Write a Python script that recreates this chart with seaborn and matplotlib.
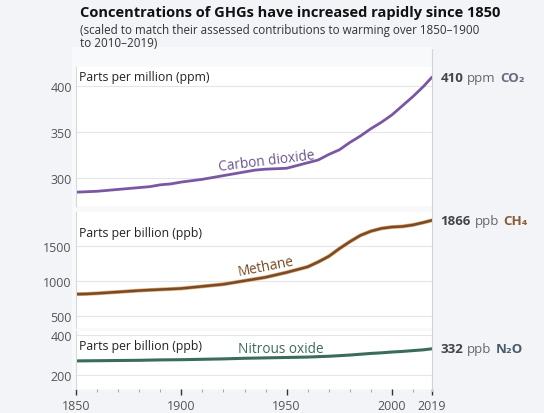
import matplotlib
matplotlib.use("Agg")
import matplotlib.pyplot as plt
import matplotlib.patheffects as pe
import pandas as pd
import seaborn as sns

# approximate values (every 5 years, last point 2019)
years = [1850, 1855, 1860, 1865, 1870, 1875, 1880, 1885, 1890, 1895, 1900,
         1905, 1910, 1915, 1920, 1925, 1930, 1935, 1940, 1945, 1950, 1955,
         1960, 1965, 1970, 1975, 1980, 1985, 1990, 1995, 2000, 2005, 2010,
         2015, 2019]
co2_ppm = [285, 285.5, 286, 287, 288, 289, 290, 291, 293, 294, 296,
           297.5, 299, 301, 303, 305, 307, 309, 310, 310.5, 311, 314,
           317, 320, 326, 331, 339, 346, 354, 361, 369, 379, 389,
           400, 410]
ch4_ppb = [808, 812, 820, 830, 840, 850, 860, 868, 875, 882, 890,
           905, 920, 935, 950, 975, 1000, 1025, 1050, 1085, 1120, 1160,
           1200, 1270, 1350, 1460, 1560, 1650, 1710, 1750, 1770, 1778, 1800,
           1835, 1866]
n2o_ppb = [272, 272.5, 273, 273.5, 274, 274.5, 275, 276, 277, 277.5, 278,
           279, 280, 281, 282, 283.5, 285, 286, 287, 288, 289, 290,
           291, 293, 295, 298, 301, 305, 309, 312, 316, 319, 323,
           327, 332]

x_ticks = [1850, 1900, 1950, 2000, 2019]
co2_ticks = [300, 350, 400]
ch4_ticks = [500, 1000, 1500]
n2o_ticks = [200, 400]

sns.set_style("white")
plt.rcParams['font.family'] = ['Open Sans', 'DejaVu Sans']

bg = '#f2f4f7'
grey = '#555555'
c_co2, c_ch4, c_n2o = '#7b57a3', '#7a4a25', '#3b6b5b'

df = pd.DataFrame({'year': years, 'co2': co2_ppm, 'ch4': ch4_ppb, 'n2o': n2o_ppb})

fig = plt.figure(figsize=(5.44, 4.14), dpi=100, facecolor=bg)

# light panel behind the plot area and title
fig.patches.append(plt.Rectangle((72 / 544, 1 - 390 / 414), 360 / 544, 342 / 414,
                                 transform=fig.transFigure, color='#f8f9fb', zorder=-5))

L, W = 76 / 544, 356 / 544
ax1 = fig.add_axes([L, 1 - 207 / 414, W, 139 / 414])
ax2 = fig.add_axes([L, 1 - 329 / 414, W, 116 / 414])
ax3 = fig.add_axes([L, 1 - 390 / 414, W, 58 / 414])

sns.lineplot(data=df, x='year', y='co2', ax=ax1, color=c_co2, linewidth=2)
sns.lineplot(data=df, x='year', y='ch4', ax=ax2, color=c_ch4, linewidth=1.8,
             path_effects=[pe.Stroke(linewidth=2.8, foreground='#d9aa78'), pe.Normal()])
sns.lineplot(data=df, x='year', y='n2o', ax=ax3, color=c_n2o, linewidth=2.2)

# (axes, y-limits, ticks, unit label, unit label drop in points)
setup = [(ax1, (270, 421), co2_ticks, 'Parts per million (ppm)', 2),
         (ax2, (324, 1985), ch4_ticks, 'Parts per billion (ppb)', 10),
         (ax3, (133, 420), n2o_ticks, 'Parts per billion (ppb)', 6)]
for ax, ylim, ticks, unit, drop in setup:
    ax.set_facecolor('white')
    ax.set_xlim(1850, 2019)
    ax.set_ylim(*ylim)
    ax.set_yticks(ticks)
    ax.set_xlabel('')
    ax.set_ylabel('')
    ax.grid(axis='y', color='#e4e6ea', linewidth=0.8)
    ax.set_axisbelow(True)
    for s in ['top', 'right', 'bottom']:
        ax.spines[s].set_visible(False)
    ax.spines['left'].set_color('#d5d8dd')
    ax.spines['left'].set_linewidth(0.8)
    ax.tick_params(axis='y', length=0, labelsize=9, labelcolor=grey, pad=3)
    ax.annotate(unit, xy=(0, 1), xycoords='axes fraction', xytext=(2, -drop),
                textcoords='offset points', ha='left', va='top',
                fontsize=8.8, color='#222222',
                bbox=dict(facecolor='white', edgecolor='none', pad=1))

for ax in (ax1, ax2):
    ax.set_xticks([])

ax3.set_xticks(x_ticks)
ax3.set_xticks(range(1860, 2019, 10), minor=True)
ax3.tick_params(axis='x', which='major', length=4, width=1, color='#333333',
                labelsize=9, labelcolor=grey, pad=3, direction='out')
ax3.tick_params(axis='x', which='minor', length=2, width=0.6, color='#999999',
                direction='out')
ax3.xaxis.set_ticks_position('bottom')
ax3.tick_params(axis='x', bottom=True)

# line labels
ax1.text(1941, 311, 'Carbon dioxide', color='#6a5690', fontsize=9.8,
         rotation=7, ha='center', va='bottom', rotation_mode='anchor')
ax2.text(1941, 1110, 'Methane', color=c_ch4, fontsize=9.8,
         rotation=11, ha='center', va='bottom', rotation_mode='anchor')
ax3.text(1947, 297, 'Nitrous oxide', color=c_n2o, fontsize=9.8,
         ha='center', va='bottom')

# right-hand value labels
def end_label(ax, y, num, unit, gas, gcolor):
    t = ax.annotate(num, xy=(2019, y), xycoords='data', xytext=(6, 0),
                    textcoords='offset points', ha='left', va='center',
                    fontsize=9.5, fontweight='bold', color='#444444',
                    annotation_clip=False)
    t2 = ax.annotate(unit, xy=(1, 0), xycoords=t, xytext=(3, 0),
                     textcoords='offset points', ha='left', va='bottom',
                     fontsize=9.5, color='#666666')
    ax.annotate(gas, xy=(1, 0), xycoords=t2, xytext=(3, 0),
                textcoords='offset points', ha='left', va='bottom',
                fontsize=9.5, fontweight='bold', color=gcolor)

end_label(ax1, 410, '410', 'ppm', 'CO\u2082', '#6a6a80')
end_label(ax2, 1866, '1866', 'ppb', 'CH\u2084', '#8a5a35')
end_label(ax3, 332, '332', 'ppb', 'N\u2082O', '#4a5a6a')

# vertical divider at right edge of plot
fig.add_artist(plt.Line2D([432 / 544, 432 / 544], [1 - 392 / 414, 1 - 50 / 414],
                          transform=fig.transFigure, color='#d0d3d8', linewidth=0.8))

fig.text(80 / 544, 1 - 6 / 414, 'Concentrations of GHGs have increased rapidly since 1850',
         ha='left', va='top', fontsize=10.5, fontweight='bold', color='#111111')
fig.text(80 / 544, 1 - 24 / 414,
         '(scaled to match their assessed contributions to warming over 1850\u20131900\nto 2010\u20132019)',
         ha='left', va='top', fontsize=8.4, color='#333333', linespacing=1.0)

fig.savefig('out.png', dpi=100, facecolor=bg)
